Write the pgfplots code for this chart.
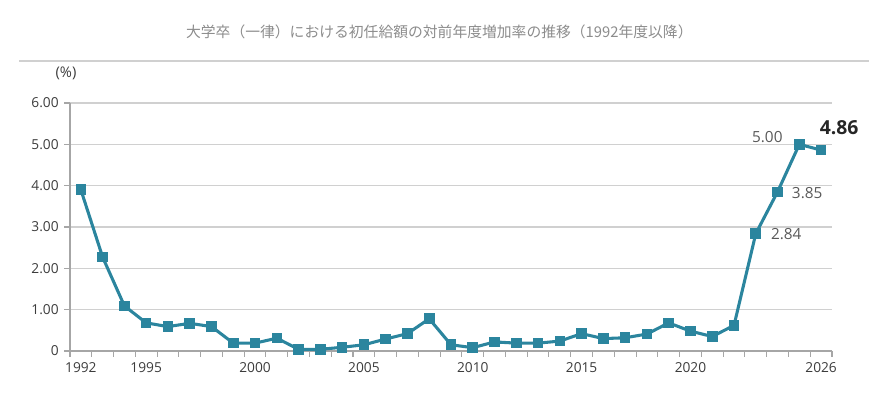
\documentclass[border=0pt]{standalone}
\usepackage{pgfplots}
\pgfplotsset{compat=1.18}
\usepackage{fontspec}
\setmainfont{Open Sans}
\newfontfamily\cjk{Noto Sans CJK JP}
\definecolor{teal1}{RGB}{43,133,158}
\definecolor{gridc}{RGB}{208,208,208}
\definecolor{axc}{RGB}{166,166,166}
\definecolor{tickc}{RGB}{60,60,60}
\definecolor{titlec}{RGB}{140,140,140}
\begin{document}
\begin{tikzpicture}
\useasboundingbox (0,0) rectangle (657pt,309.75pt);
\node[text=titlec,font={\cjk\fontsize{11.1}{13}\selectfont}] at (329.5pt,285.75pt) {大学卒（一律）における初任給額の対前年度増加率の推移（1992年度以降）};
\draw[color=gridc,line width=0.9pt] (14.25pt,264pt) -- (651.75pt,264pt);
\node[text=tickc,font={\fontsize{11}{13}\selectfont}] at (49.5pt,254.5pt) {(\%)};
\begin{axis}[
  at={(52.5pt,46.5pt)}, anchor=south west,
  scale only axis, width=571.5pt, height=186pt,
  xmin=1991.5, xmax=2026.5, ymin=0, ymax=6,
  axis x line*=bottom, axis y line*=left,
  axis line style={draw=axc,line width=0.8pt},
  xtick={1992,1995,2000,2005,2010,2015,2020,2026},
  xticklabels={1992,1995,2000,2005,2010,2015,2020,2026},
  minor xtick={1991.5,1992.5,...,2026.5},
  major x tick style={draw=none},
  minor x tick style={draw=axc,line width=0.8pt},
  ytick={0,1,2,3,4,5,6},
  yticklabels={0,1.00,2.00,3.00,4.00,5.00,6.00},
  major y tick style={draw=axc,line width=0.8pt},
  tick align=outside,
  major tick length=4.5pt, minor tick length=4.5pt,
  ymajorgrids, grid style={draw=gridc,line width=0.8pt},
  tick label style={text=tickc,font={\fontsize{10.3}{12}\selectfont}},
  xticklabel style={yshift=-1pt},
  yticklabel style={xshift=-0.5pt},
  clip=false,
]
\addplot[color=teal1,line width=2.3pt,mark=square*,mark size=3.6pt,mark options={solid,fill=teal1,draw=teal1,line width=0pt}] coordinates {
(1992,3.90) (1993,2.27) (1994,1.09) (1995,0.68) (1996,0.59) (1997,0.67)
(1998,0.59) (1999,0.19) (2000,0.19) (2001,0.31) (2002,0.04) (2003,0.04)
(2004,0.09) (2005,0.15) (2006,0.29) (2007,0.42) (2008,0.78) (2009,0.15)
(2010,0.08) (2011,0.22) (2012,0.19) (2013,0.19) (2014,0.24) (2015,0.42)
(2016,0.30) (2017,0.32) (2018,0.41) (2019,0.68) (2020,0.48) (2021,0.35)
(2022,0.62) (2023,2.84) (2024,3.85) (2025,5.00) (2026,4.86)
};
\node[text=tickc!85!white,font={\fontsize{11.5}{13}\selectfont}] at (axis cs:2023.53,5.18) {5.00};
\node[text=tickc!85!white,font={\fontsize{11.5}{13}\selectfont}] at (axis cs:2025.36,3.82) {3.85};
\node[text=tickc!85!white,font={\fontsize{11.5}{13}\selectfont}] at (axis cs:2024.4,2.83) {2.84};
\node[text=black!85,font={\bfseries\fontsize{14.5}{16}\selectfont}] at (axis cs:2026.83,5.40) {4.86};
\end{axis}
\end{tikzpicture}
\end{document}
